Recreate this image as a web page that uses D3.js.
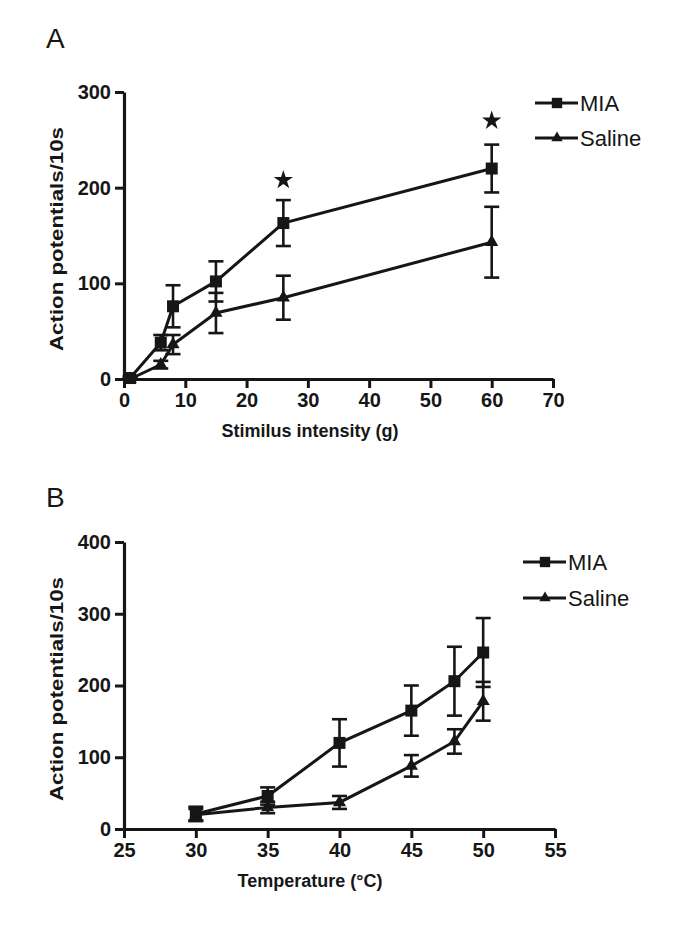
<!DOCTYPE html>
<html><head><meta charset="utf-8">
<script src="https://cdn.jsdelivr.net/npm/d3@7"></script>
<style>
html,body{margin:0;padding:0;background:#fff;}
svg{display:block;font-family:"Liberation Sans",Arial,sans-serif;}
</style></head>
<body>
<svg id="chart" width="685" height="941"></svg>
<script>
// ---- Panel A data ----
const seriesNames = ["MIA", "Saline"];
const xA = [1, 6, 8, 15, 26, 60];
const miaA = [1, 38, 76, 102, 163, 220];
const miaAErr = [2, 8, 22, 21, 24, 25];
const salA = [0, 15, 36, 69, 85, 143];
const salAErr = [1, 4, 10, 21, 23, 37];
const starAX = [26, 60];
const starAY = [208, 270];
const xTicksA = [0, 10, 20, 30, 40, 50, 60, 70];
const yTicksA = [0, 100, 200, 300];

// ---- Panel B data ----
const xB = [30, 35, 40, 45, 48, 50];
const miaB = [21, 46, 120, 165, 206, 246];
const miaBErr = [10, 12, 33, 35, 48, 48];
const salB = [20, 30, 37, 88, 122, 178];
const salBErr = [8, 8, 9, 15, 17, 27];
const xTicksB = [25, 30, 35, 40, 45, 50, 55];
const yTicksB = [0, 100, 200, 300, 400];

const INK = "#161616";
const svg = d3.select("#chart");

function drawPanel(o) {
  const g = svg.append("g");
  const x = d3.scaleLinear().domain(o.xDomain).range([124, o.xRight]);
  const y = d3.scaleLinear().domain(o.yDomain).range([o.yBottom, o.yTop]);

  // axes
  const xAxis = g.append("g").attr("transform", `translate(0,${o.yBottom})`)
    .call(d3.axisBottom(x).tickValues(o.xTicks).tickSize(9).tickSizeOuter(0).tickPadding(5));
  const yAxis = g.append("g").attr("transform", `translate(124,0)`)
    .call(d3.axisLeft(y).tickValues(o.yTicks).tickSize(9).tickSizeOuter(0).tickPadding(4));
  [xAxis, yAxis].forEach(a => {
    a.attr("font-size", null).attr("font-family", null);
    a.select(".domain").attr("stroke", INK).attr("stroke-width", 3.2);
    a.selectAll(".tick line").attr("stroke", INK).attr("stroke-width", 3);
    a.selectAll(".tick text").attr("fill", INK).style("font-size", "20px").style("font-weight", "bold")
      .style("font-family", "'Liberation Sans',Arial,sans-serif");
  });

  // axis titles
  g.append("text").attr("x", 310).attr("y", o.xTitleY).attr("text-anchor", "middle")
    .style("font-size", "18px").style("font-weight", "bold").attr("fill", INK).text(o.xTitle);
  g.append("text").attr("transform", `translate(63,${o.yTitleC}) rotate(-90)`)
    .attr("text-anchor", "middle").style("font-size", "18px").style("font-weight", "bold").attr("fill", INK)
    .attr("textLength", 224).attr("lengthAdjust", "spacingAndGlyphs")
    .text("Action potentials/10s");
  // panel letter
  g.append("text").attr("x", 46).attr("y", o.letterY).style("font-size", "28px").attr("fill", INK).text(o.letter);

  const plot = g.append("g");
  const series = [
    {name: seriesNames[0], v: o.mia, e: o.miaErr, sym: d3.symbolSquare, size: 144},
    {name: seriesNames[1], v: o.sal, e: o.salErr, sym: d3.symbolTriangle, size: 75}
  ];
  const cap = 7.5;
  series.forEach(s => {
    const pts = o.xs.map((xv, i) => ({x: xv, v: s.v[i], e: s.e[i]}));
    // error bars
    const eb = plot.append("g").attr("stroke", INK).attr("stroke-width", 2.6).attr("fill", "none");
    pts.forEach(p => {
      const cx = x(p.x), y1 = y(p.v + p.e), y0 = y(Math.max(0, p.v - p.e));
      eb.append("line").attr("x1", cx).attr("x2", cx).attr("y1", y1).attr("y2", y0);
      eb.append("line").attr("x1", cx - cap).attr("x2", cx + cap).attr("y1", y1).attr("y2", y1);
      eb.append("line").attr("x1", cx - cap).attr("x2", cx + cap).attr("y1", y0).attr("y2", y0);
    });
    plot.append("path").datum(pts)
      .attr("d", d3.line().x(d => x(d.x)).y(d => y(d.v)))
      .attr("fill", "none").attr("stroke", INK).attr("stroke-width", 3);
    plot.append("g").selectAll("path").data(pts).join("path")
      .attr("transform", d => `translate(${x(d.x)},${y(d.v)})`)
      .attr("d", d3.symbol().type(s.sym).size(s.size)).attr("fill", INK);
  });

  // stars
  if (o.starX) {
    plot.append("g").selectAll("path").data(o.starX.map((sx, i) => ({x: sx, v: o.starY[i]}))).join("path")
      .attr("transform", d => `translate(${x(d.x)},${y(d.v)})`)
      .attr("d", d3.symbol().type(d3.symbolStar).size(115)).attr("fill", INK);
  }

  // legend
  const lg = g.append("g");
  series.forEach((s, i) => {
    const ly = o.legY[i];
    lg.append("line").attr("x1", o.legX).attr("x2", o.legX + 43).attr("y1", ly).attr("y2", ly)
      .attr("stroke", INK).attr("stroke-width", 3);
    lg.append("path").attr("transform", `translate(${o.legX + 22},${ly})`)
      .attr("d", d3.symbol().type(s.sym).size(s.size * 0.75)).attr("fill", INK);
    lg.append("text").attr("x", o.legX + 45).attr("y", ly).attr("dy", "0.36em")
      .style("font-size", "22px").attr("fill", INK).text(s.name);
  });
}

drawPanel({
  letter: "A", letterY: 48,
  xDomain: [0, 70], xRight: 553, yDomain: [0, 300], yTop: 92, yBottom: 379,
  xTicks: xTicksA, yTicks: yTicksA,
  xs: xA, mia: miaA, miaErr: miaAErr, sal: salA, salErr: salAErr,
  starX: starAX, starY: starAY,
  xTitle: "Stimilus intensity (g)", xTitleY: 437, yTitleC: 239,
  legX: 535, legY: [103, 138]
});
drawPanel({
  letter: "B", letterY: 507,
  xDomain: [25, 55], xRight: 555, yDomain: [0, 400], yTop: 542, yBottom: 829,
  xTicks: xTicksB, yTicks: yTicksB,
  xs: xB, mia: miaB, miaErr: miaBErr, sal: salB, salErr: salBErr,
  xTitle: "Temperature (°C)", xTitleY: 887, yTitleC: 689,
  legX: 523, legY: [562, 598]
});
</script>
</body></html>
